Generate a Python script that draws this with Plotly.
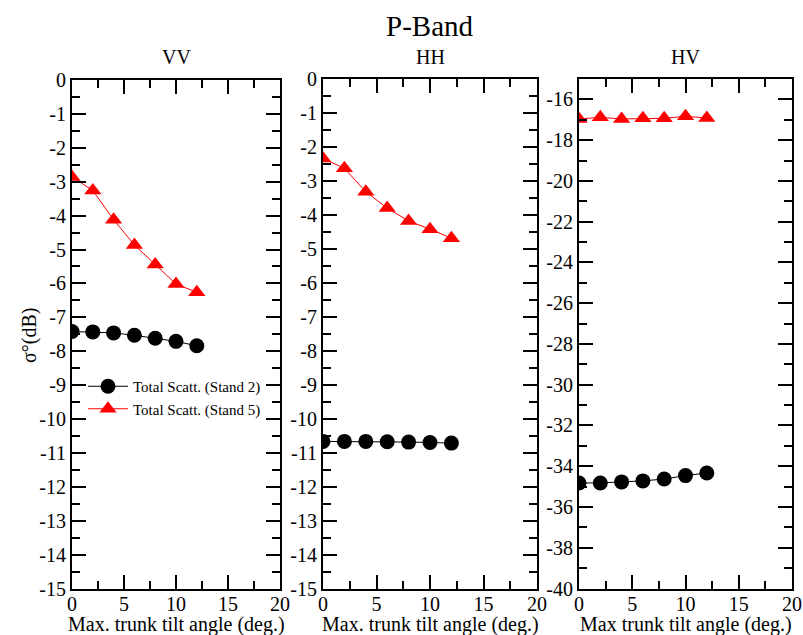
import plotly.graph_objects as go

# ---- data ----
tilt_angle = [0, 2, 4, 6, 8, 10, 12]

vv_stand2 = [-7.42, -7.43, -7.46, -7.53, -7.62, -7.71, -7.84]
vv_stand5 = [-2.86, -3.26, -4.12, -4.87, -5.44, -6.02, -6.26]

hh_stand2 = [-10.67, -10.67, -10.67, -10.68, -10.69, -10.70, -10.72]
hh_stand5 = [-2.34, -2.63, -3.32, -3.80, -4.18, -4.42, -4.69]

hv_stand2 = [-34.82, -34.82, -34.77, -34.72, -34.63, -34.46, -34.33]
hv_stand5 = [-16.96, -16.88, -16.96, -16.93, -16.93, -16.83, -16.91]

panel_titles = ["VV", "HH", "HV"]
series_names = ["Total Scatt. (Stand 2)", "Total Scatt. (Stand 5)"]
x_titles = ["Max. trunk tilt angle (deg.)", "Max. trunk tilt angle (deg.)",
            "Max trunk tilt angle (deg.)"]
y_title = "σ°(dB)"
main_title = "P-Band"

x_tickvals = [0, 5, 10, 15, 20]
y_tickvals_co = list(range(0, -16, -1))
y_ticktext_co = ["0"] + ["-%d" % (-v) for v in y_tickvals_co[1:]]
y_tickvals_hv = list(range(-16, -41, -2))
y_ticktext_hv = ["-%d" % (-v) for v in y_tickvals_hv]

# ---- figure ----
W, H = 803, 635
FONT = "Liberation Serif"

fig = go.Figure()

panels = [
    (vv_stand2, vv_stand5, (72, 280), 80),
    (hh_stand2, hh_stand5, (323, 537), 79),
    (hv_stand2, hv_stand5, (579, 792), 79),
]
bottom_px = 588.5


def ann(text, xpx, ypx, size, angle=0):
    fig.add_annotation(text=text, x=xpx / W, y=1 - ypx / H, xref="paper", yref="paper",
                       xanchor="center", yanchor="middle", showarrow=False,
                       textangle=angle, font=dict(family=FONT, size=size, color="black"))


for i, (s2, s5, (xl, xr), top_px) in enumerate(panels):
    k = "" if i == 0 else str(i + 1)
    fig.add_trace(go.Scatter(
        x=tilt_angle, y=s2, mode="lines+markers", name=series_names[0],
        xaxis="x" + k, yaxis="y" + k, showlegend=(i == 0),
        line=dict(color="black", width=1),
        marker=dict(symbol="circle", size=15, color="black"),
    ))
    fig.add_trace(go.Scatter(
        x=tilt_angle, y=s5, mode="lines+markers", name=series_names[1],
        xaxis="x" + k, yaxis="y" + k, showlegend=(i == 0),
        line=dict(color="#ff0000", width=1),
        marker=dict(symbol="triangle-up", size=15, color="#ff0000"),
    ))
    common = dict(
        showline=True, linecolor="black", linewidth=2, mirror="ticks",
        ticks="inside", tickcolor="black", tickwidth=2,
        showgrid=False, zeroline=False, automargin=False,
        tickfont=dict(family=FONT, size=20, color="black"),
    )
    xa = dict(common, domain=[xl / W, xr / W], range=[0, 20],
              tickvals=x_tickvals, ticklen=14, ticklabelstandoff=-4,
              minor=dict(dtick=2.5, ticklen=8, tickwidth=2, tickcolor="black", ticks="inside"),
              anchor="y" + k)
    if i < 2:
        ya = dict(common, range=[-15, 0], tickvals=y_tickvals_co, ticktext=y_ticktext_co,
                  minor=dict(dtick=0.5, ticklen=8, tickwidth=2, tickcolor="black", ticks="inside"))
    else:
        ya = dict(common, range=[-40, -15], tickvals=y_tickvals_hv, ticktext=y_ticktext_hv,
                  minor=dict(dtick=1, ticklen=8, tickwidth=2, tickcolor="black", ticks="inside"))
    ya.update(domain=[1 - bottom_px / H, 1 - top_px / H], anchor="x" + k, ticklen=14)
    fig.layout["xaxis" + k] = xa
    fig.layout["yaxis" + k] = ya
    ann(panel_titles[i], (xl + xr) / 2, 57, 20)
    ann(x_titles[i], (xl + xr) / 2, 624, 20)

ann(y_title, 30, 335, 20, angle=-90)
ann(main_title, 430, 26, 29)

fig.update_layout(
    width=W, height=H,
    margin=dict(l=0, r=0, t=0, b=0, autoexpand=False),
    paper_bgcolor="white", plot_bgcolor="white",
    showlegend=True,
    legend=dict(x=83 / W, y=1 - 370 / H, xanchor="left", yanchor="top",
                bgcolor="rgba(0,0,0,0)", borderwidth=0, itemwidth=40,
                font=dict(family=FONT, size=15, color="black"), tracegroupgap=0),
)

fig.write_html("out.html", config={"displayModeBar": False},
               post_script="document.body.style.margin='0';document.body.style.overflow='hidden';")
